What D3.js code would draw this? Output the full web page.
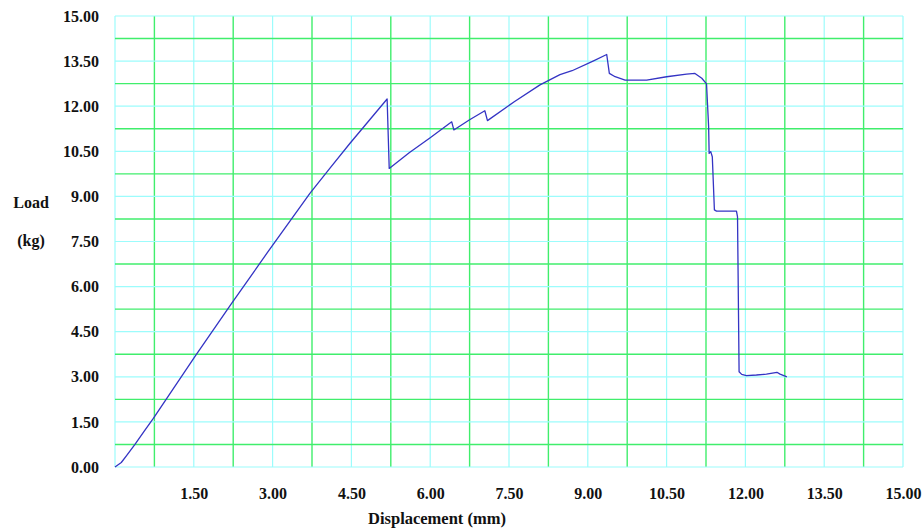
<!DOCTYPE html>
<html>
<head>
<meta charset="utf-8">
<script src="https://cdn.jsdelivr.net/npm/d3@7"></script>
<style>
  html, body { margin: 0; padding: 0; background: #ffffff; }
  svg { display: block; }
  text { font-family: "Liberation Serif", "Times New Roman", serif; font-weight: bold; fill: #111111; }
</style>
</head>
<body>
<svg id="chart" width="923" height="530"></svg>
<script>
// Load–displacement record of the test
const displacement = [
  0, 0.12, 0.22, 0.38, 0.55, 0.73, 1.52, 2.22, 2.92, 3.71, 4.10, 4.47, 5.18,
  5.22, 5.60, 6.00, 6.41, 6.45, 6.75, 7.04, 7.09, 7.60, 8.09, 8.47, 8.70,
  9.11, 9.36, 9.41, 9.52, 9.71, 10.12, 10.50, 10.88, 11.04, 11.17, 11.26,
  11.30, 11.31, 11.34, 11.37, 11.41, 11.45, 11.83, 11.85, 11.88, 11.93,
  12.02, 12.21, 12.40, 12.60, 12.66, 12.79
];
const load = [
  0, 0.15, 0.38, 0.75, 1.18, 1.62, 3.67, 5.44, 7.18, 9.10, 9.96, 10.76, 12.24,
  9.93, 10.45, 10.95, 11.48, 11.21, 11.55, 11.85, 11.52, 12.15, 12.71, 13.05, 13.18,
  13.51, 13.72, 13.09, 12.98, 12.87, 12.87, 12.98, 13.07, 13.09, 12.93, 12.74,
  11.32, 10.43, 10.49, 10.32, 8.55, 8.51, 8.51, 8.32, 3.17, 3.08,
  3.04, 3.06, 3.09, 3.15, 3.09, 3.00
];

// Axis ticks and grid spacing
const xTicks = [1.5, 3, 4.5, 6, 7.5, 9, 10.5, 12, 13.5, 15];
const yTicks = [0, 1.5, 3, 4.5, 6, 7.5, 9, 10.5, 12, 13.5, 15];
const gridStep = 0.75;
const axisMax = 15;

const svg = d3.select("#chart");
const plotLeft = 115, plotRight = 903, plotTop = 16, plotBottom = 467;

const x = d3.scaleLinear().domain([0, axisMax]).range([plotLeft, plotRight]);
const y = d3.scaleLinear().domain([0, axisMax]).range([plotBottom, plotTop]);

const gridVals = d3.range(0, axisMax + 1e-9, gridStep);
const grid = svg.append("g");

// cyan lines on the labelled values, green lines between them
const cyan = "#9cfcfc", green = "#40ee6c";
const ordered = gridVals.map((v, i) => ({ v, odd: i % 2 === 1 }))
  .sort((a, b) => a.odd - b.odd);

grid.selectAll("line.v").data(ordered).join("line")
  .attr("class", "v")
  .attr("x1", d => x(d.v)).attr("x2", d => x(d.v))
  .attr("y1", y(0)).attr("y2", y(axisMax))
  .attr("stroke", d => d.odd ? green : cyan)
  .attr("stroke-width", d => d.odd ? 1.4 : 1.2);

grid.selectAll("line.h").data(ordered).join("line")
  .attr("class", "h")
  .attr("y1", d => y(d.v)).attr("y2", d => y(d.v))
  .attr("x1", x(0)).attr("x2", x(axisMax))
  .attr("stroke", d => d.odd ? green : cyan)
  .attr("stroke-width", d => d.odd ? 1.4 : 1.2);

// Axes: labels only
const fmt = d3.format(".2f");
const xAxis = svg.append("g")
  .attr("transform", `translate(0,${plotBottom})`)
  .call(d3.axisBottom(x).tickValues(xTicks).tickFormat(fmt).tickSize(0).tickPadding(21));
const yAxis = svg.append("g")
  .attr("transform", `translate(${plotLeft},0)`)
  .call(d3.axisLeft(y).tickValues(yTicks).tickFormat(fmt).tickSize(0).tickPadding(16));
[xAxis, yAxis].forEach(g => {
  g.select(".domain").remove();
  g.selectAll("text")
    .style("font-family", '"Liberation Serif", "Times New Roman", serif')
    .style("font-weight", "bold")
    .style("font-size", "16px")
    .attr("fill", "#111111");
});

// Axis titles
svg.append("text")
  .attr("x", 437).attr("y", 524)
  .attr("text-anchor", "middle")
  .style("font-size", "16.5px")
  .text("Displacement (mm)");
svg.append("text")
  .attr("x", 31).attr("y", 208)
  .attr("text-anchor", "middle")
  .style("font-size", "16px")
  .text("Load");
svg.append("text")
  .attr("x", 31).attr("y", 246)
  .attr("text-anchor", "middle")
  .style("font-size", "16px")
  .text("(kg)");

// Load curve
const pts = displacement.map((d, i) => [d, load[i]]);
const line = d3.line().x(d => x(d[0])).y(d => y(d[1]));
svg.append("path")
  .datum(pts)
  .attr("d", line)
  .attr("fill", "none")
  .attr("stroke", "#3434c4")
  .attr("stroke-width", 1.3)
  .attr("stroke-linejoin", "round");
</script>
</body>
</html>
